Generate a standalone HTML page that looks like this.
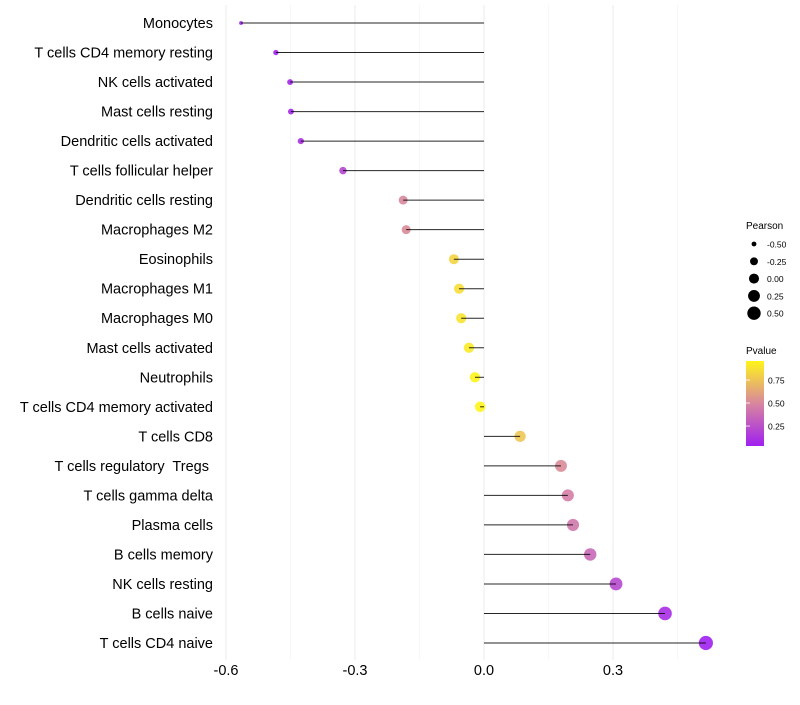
<!DOCTYPE html>
<html><head><meta charset="utf-8"><style>
body{margin:0;background:#fff;font-family:"Liberation Sans",sans-serif}
text{white-space:pre}
</style></head><body>
<svg id="chart" width="800" height="700" xmlns="http://www.w3.org/2000/svg" font-family="Liberation Sans, sans-serif">
<defs><linearGradient id="pg" x1="0" y1="1" x2="0" y2="0">
<stop offset="0" stop-color="#a020f0"/><stop offset="0.5" stop-color="#d8869f"/><stop offset="1" stop-color="#fff51a"/></linearGradient></defs>
<g id="grid"></g><g id="marks"></g><g id="labels"></g>
<g id="legS">
<text x="746" y="229" font-size="10">Pearson</text>
</g>
<g>
<text x="746" y="354" font-size="10">Pvalue</text>
<rect x="746" y="361" width="18" height="85" fill="url(#pg)"/>
<g id="legP"></g>
</g>
</svg>
<script>
const categories=["Monocytes","T cells CD4 memory resting","NK cells activated","Mast cells resting","Dendritic cells activated","T cells follicular helper","Dendritic cells resting","Macrophages M2","Eosinophils","Macrophages M1","Macrophages M0","Mast cells activated","Neutrophils","T cells CD4 memory activated","T cells CD8","T cells regulatory  Tregs ","T cells gamma delta","Plasma cells","B cells memory","NK cells resting","B cells naive","T cells CD4 naive"];
const pearson=[-0.565,-0.484,-0.451,-0.449,-0.426,-0.328,-0.188,-0.181,-0.070,-0.058,-0.053,-0.035,-0.021,-0.009,0.084,0.179,0.195,0.207,0.247,0.307,0.421,0.516];
const pvalues=[0.01,0.05,0.07,0.07,0.10,0.20,0.50,0.52,0.82,0.86,0.88,0.91,0.95,0.98,0.76,0.52,0.46,0.43,0.36,0.22,0.09,0.03];
const xTicks=[-0.6,-0.3,0.0,0.3];
const xMinor=[-0.45,-0.15,0.15,0.45];
const sizeTicks=[-0.5,-0.25,0,0.25,0.5];
const pTicks=[0.25,0.5,0.75];
const NS="http://www.w3.org/2000/svg";
const x=v=>484+v*430;
const y=i=>23+i*(620/21);
const r=v=>Math.sqrt(Math.max(0.5,28+43*v));
function lerp(a,b,t){return a.map((c,i)=>Math.round(c+(b[i]-c)*t));}
function col(p){const t=Math.max(0,Math.min(1,(p-0.033)/(0.957-0.033)));
 const lo=[160,32,240],mid=[216,134,159],hi=[255,245,26];
 const c=t<0.5?lerp(lo,mid,t/0.5):lerp(mid,hi,(t-0.5)/0.5);return `rgb(${c})`;}
function mk(tag,attrs,parent){const e=document.createElementNS(NS,tag);for(const k in attrs)e.setAttribute(k,attrs[k]);parent.appendChild(e);return e;}
const grid=document.getElementById('grid'),marks=document.getElementById('marks'),labels=document.getElementById('labels');
xMinor.forEach(v=>{const l=mk('line',{x1:x(v),x2:x(v),y1:5,y2:660,stroke:'#f2f2f2','stroke-width':0.6},grid);

});
xTicks.forEach(v=>{const l=mk('line',{x1:x(v),x2:x(v),y1:5,y2:660,stroke:'#ebebeb','stroke-width':1},grid);


const t=mk('text',{x:x(v),y:675,'font-size':14.5,'text-anchor':'middle',fill:'#000'},labels);t.textContent=v.toFixed(1);

});
categories.forEach((c,i)=>{
 const d=mk('circle',{cx:x(pearson[i]),cy:y(i),r:r(pearson[i]),fill:col(pvalues[i]),'fill-opacity':0.9},marks);
 
 
 const l=mk('line',{x1:x(0),x2:x(pearson[i]),y1:y(i),y2:y(i),stroke:'#000','stroke-width':1,'stroke-opacity':0.85},marks);
 
 
 const t=mk('text',{x:213,y:y(i)+5,'font-size':14.5,'text-anchor':'end',fill:'#000'},labels);t.textContent=c;
 
 
});
const legS=document.getElementById('legS');
sizeTicks.forEach((v,i)=>{const yy=244+i*17.3;
 const c=mk('circle',{cx:754,cy:yy,r:r(v)*0.95,fill:'#000'},legS);
 
 
 const t=mk('text',{x:767,y:yy+3.5,'font-size':8.5},legS);t.textContent=v.toFixed(2);
 
 });
const legP=document.getElementById('legP');
pTicks.forEach(p=>{const yy=446-(p-0.033)*92;
 const l=mk('line',{x1:746,x2:750,y1:yy,y2:yy,stroke:'#fff','stroke-width':0.8},legP);
 
 
 const t=mk('text',{x:768,y:yy+3.5,'font-size':8.5},legP);t.textContent=p.toFixed(2);
 
 });
</script>
</body></html>
